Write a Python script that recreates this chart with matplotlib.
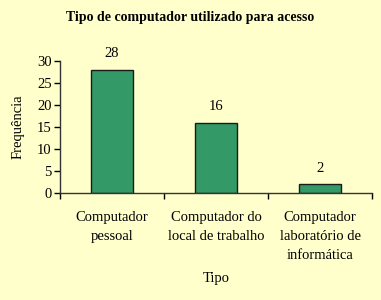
import matplotlib
matplotlib.use("Agg")
import matplotlib.pyplot as plt
import numpy as np

categories = ["Computador\npessoal", "Computador do\nlocal de trabalho", "Computador\nlaboratório de\ninformática"]
values = [28, 16, 2]
yticks = [0, 5, 10, 15, 20, 25, 30]

bg = "#FFFFCC"
plt.rcParams['font.family'] = ['Liberation Serif', 'DejaVu Serif']

fig = plt.figure(figsize=(3.81, 3.0), dpi=100, facecolor=bg)
ax = fig.add_axes([60/381, 1-193/300, 312/381, 132/300], facecolor=bg)

x = np.arange(len(values))
bars = ax.bar(x, values, width=0.4, color="#339966", edgecolor="#1a1a1a", linewidth=1.0)
for xi, v in zip(x, values):
    ax.text(xi, v + 2.2, str(v), ha="center", va="bottom", fontsize=10.5)

ax.set_xlim(-0.5, len(values) - 0.5)
ax.set_ylim(0, 30)
ax.set_yticks(yticks)
ax.set_yticklabels([str(t) for t in yticks], fontsize=10.5)
ax.set_xticks(np.arange(len(values) + 1) - 0.5)
ax.set_xticklabels([])
ax.set_xticks(x, minor=True)
ax.set_xticklabels(categories, minor=True, fontsize=10.5, linespacing=1.6, va="top")
ax.tick_params(axis="x", which="minor", length=0, pad=13)
ax.tick_params(axis="x", which="major", length=4, direction="out", width=1)
ax.tick_params(axis="y", length=4, direction="out", width=1, pad=2)

for s in ["top", "right"]:
    ax.spines[s].set_visible(False)
for s in ["left", "bottom"]:
    ax.spines[s].set_linewidth(1.0)
    ax.spines[s].set_color("#333333")

ax.set_ylabel("Frequência", fontsize=10.5, labelpad=9)
ax.set_xlabel("Tipo", fontsize=10.5, labelpad=7)
fig.text(0.5, 1 - 17/300, "Tipo de computador utilizado para acesso", ha="center", va="center",
         fontsize=10, fontweight="bold")

fig.savefig("out.png", dpi=100, facecolor=bg)
